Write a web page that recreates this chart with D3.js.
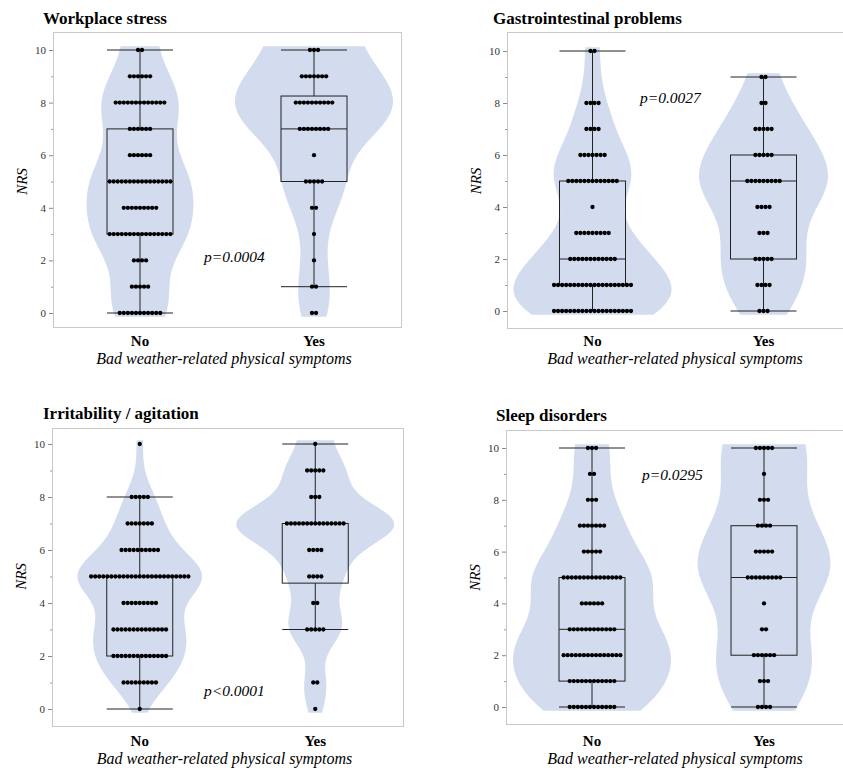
<!DOCTYPE html>
<html>
<head>
<meta charset="utf-8">
<script src="https://cdn.jsdelivr.net/npm/d3@7"></script>
<style>
  html, body { margin: 0; padding: 0; background: #fff; }
  #container { width: 843px; height: 770px; }
  svg { display: block; }
</style>
</head>
<body>
<div id="container"></div>
<script>
// ---- data ----
// NRS score 0..10, number of respondents at each score
const nrsScores = d3.range(0, 11);
const groups = ["No", "Yes"];
const panelTitles = ["Workplace stress", "Gastrointestinal problems", "Irritability / agitation", "Sleep disorders"];
const pTexts = ["p=0.0004", "p=0.0027", "p<0.0001", "p=0.0295"];
const xAxisTitle = "Bad weather-related physical symptoms";
const yAxisTitle = "NRS";
const yTicks = [0, 2, 4, 6, 8, 10];
const yMinorTicks = [1, 3, 5, 7, 9];

const workNo = [11, 5, 4, 16, 9, 16, 6, 6, 13, 6, 2];
const workYes = [2, 2, 1, 1, 2, 5, 1, 8, 10, 7, 3];
const gastroNo = [20, 20, 12, 9, 1, 13, 7, 4, 4, 0, 2];
const gastroYes = [3, 4, 5, 3, 4, 9, 5, 5, 2, 2, 0];
const irritNo = [1, 9, 14, 14, 9, 25, 10, 7, 5, 0, 1];
const irritYes = [1, 2, 0, 5, 2, 4, 4, 15, 3, 5, 1];
const sleepNo = [12, 12, 15, 12, 6, 15, 5, 7, 3, 2, 3];
const sleepYes = [4, 3, 6, 2, 1, 9, 5, 4, 3, 1, 5];

// ---- layout ----
const width = 843, height = 770;
const violinFill = "#d3dbee";
const serif = "'Liberation Serif', 'Times New Roman', serif";

const panels = [
  { title: panelTitles[0], p: pTexts[0], counts: [workNo, workYes],
    left: 53, right: 401, top: 32, bottom: 327, y0: 313, y10: 50,
    titleX: 43, titleY: 24, pX: 204, pY: 262, catY: 346, axisY: 364 },
  { title: panelTitles[1], p: pTexts[1], counts: [gastroNo, gastroYes],
    left: 507, right: 849, top: 32, bottom: 328, y0: 311, y10: 51,
    titleX: 493, titleY: 24, pX: 640, pY: 103, catY: 346, axisY: 364 },
  { title: panelTitles[2], p: pTexts[2], counts: [irritNo, irritYes],
    left: 52, right: 403, top: 428, bottom: 726, y0: 709, y10: 444,
    titleX: 43, titleY: 419, pX: 204, pY: 696, catY: 746, axisY: 764 },
  { title: panelTitles[3], p: pTexts[3], counts: [sleepNo, sleepYes],
    left: 506, right: 850, top: 430, bottom: 724, y0: 707, y10: 448,
    titleX: 496, titleY: 421, pX: 642, pY: 480, catY: 746, axisY: 764 }
];

// expand counts to a sorted list of values
function expand(counts) {
  const out = [];
  counts.forEach((c, v) => { for (let i = 0; i < c; i++) out.push(nrsScores[v]); });
  return out;
}

// JMP style quantile: position (n+1)p
function quantile(sorted, p) {
  const n = sorted.length;
  const pos = (n + 1) * p;
  if (pos <= 1) return sorted[0];
  if (pos >= n) return sorted[n - 1];
  const k = Math.floor(pos), f = pos - k;
  return sorted[k - 1] + f * (sorted[k] - sorted[k - 1]);
}

function boxStats(values) {
  const q1 = quantile(values, 0.25), med = quantile(values, 0.5), q3 = quantile(values, 0.75);
  const iqr = q3 - q1;
  const lo = d3.min(values.filter(v => v >= q1 - 1.5 * iqr));
  const hi = d3.max(values.filter(v => v <= q3 + 1.5 * iqr));
  return { q1, med, q3, lo, hi };
}

// gaussian kde, Silverman bandwidth, half-weight reflection at the top of the NRS scale
function kde(values, grid) {
  const n = values.length;
  const sd = d3.deviation(values);
  const iqr = quantile(values, 0.75) - quantile(values, 0.25);
  const h = 0.9 * Math.min(sd, iqr / 1.34 || sd) * Math.pow(n, -0.2);
  const k = u => Math.exp(-0.5 * u * u);
  return grid.map(t => [t, d3.sum(values, v => k((t - v) / h) + 0.5 * k((t - (20 - v)) / h)) / (n * h)]);
}

const svg = d3.select("#container").append("svg")
  .attr("width", width).attr("height", height)
  .attr("viewBox", [0, 0, width, height]);

function drawPanel(cfg) {
  const g = svg.append("g");
  const x = d3.scaleBand().domain(groups).range([cfg.left, cfg.right]);
  const y = d3.scaleLinear().domain([0, 10]).range([cfg.y0, cfg.y10]);
  const cx = k => x(k) + x.bandwidth() / 2;

  // frame
  g.append("rect")
    .attr("x", cfg.left + 0.5).attr("y", cfg.top + 0.5)
    .attr("width", cfg.right - cfg.left).attr("height", cfg.bottom - cfg.top)
    .attr("fill", "none").attr("stroke", "#c9c9c9");

  // y axis
  g.append("g")
    .attr("transform", `translate(${cfg.left},0)`)
    .call(d3.axisLeft(y).tickValues(yTicks).tickSize(4).tickPadding(3))
    .call(a => a.select(".domain").remove())
    .call(a => a.selectAll("line").attr("stroke", "#888"))
    .call(a => a.selectAll("text").attr("font-family", serif).attr("font-size", 11).attr("fill", "#333"));
  g.append("g")
    .attr("transform", `translate(${cfg.left},0)`)
    .call(d3.axisLeft(y).tickValues(yMinorTicks).tickSize(2).tickFormat(""))
    .call(a => a.select(".domain").remove())
    .call(a => a.selectAll("line").attr("stroke", "#999"));

  const sets = cfg.counts.map(expand);
  const dens = sets.map(vals => {
    const lo = d3.min(vals) - 0.14, hi = d3.max(vals) + 0.14;
    const grid = d3.range(lo, hi, 0.05).concat([hi]);
    return kde(vals, grid);
  });
  const maxD = d3.max(dens.flat(), d => d[1]);
  const w = d3.scaleLinear().domain([0, maxD]).range([0, 79]);

  groups.forEach((grp, i) => {
    const c = cx(grp);
    // violin
    g.append("path")
      .datum(dens[i])
      .attr("fill", violinFill)
      .attr("d", d3.area()
        .curve(d3.curveBasis)
        .y(d => y(d[0]))
        .x0(d => c - w(d[1]))
        .x1(d => c + w(d[1])));

    // box
    const s = boxStats(sets[i]);
    const bw = 33;
    const box = g.append("g").attr("stroke", "#222").attr("stroke-width", 1).attr("fill", "none");
    box.append("line").attr("x1", c).attr("x2", c).attr("y1", y(s.lo)).attr("y2", y(s.q1));
    box.append("line").attr("x1", c).attr("x2", c).attr("y1", y(s.q3)).attr("y2", y(s.hi));
    box.append("rect").attr("x", c - bw).attr("width", 2 * bw)
      .attr("y", y(s.q3)).attr("height", y(s.q1) - y(s.q3));
    [s.lo, s.hi, s.med].forEach(v =>
      box.append("line").attr("x1", c - bw).attr("x2", c + bw).attr("y1", y(v)).attr("y2", y(v)));

    // dots
    const dots = [];
    cfg.counts[i].forEach((n, v) => {
      for (let j = 0; j < n; j++) dots.push({ v: nrsScores[v], off: j - (n - 1) / 2 });
    });
    g.append("g").attr("fill", "#000")
      .selectAll("circle").data(dots).join("circle")
      .attr("cx", d => c + d.off * 4.05)
      .attr("cy", d => y(d.v))
      .attr("r", 2.15);

    // category label
    g.append("text")
      .attr("x", c).attr("y", cfg.catY)
      .attr("text-anchor", "middle")
      .attr("font-family", serif).attr("font-weight", "bold").attr("font-size", 15)
      .text(grp);
  });

  // axis titles
  g.append("text")
    .attr("x", (cx("No") + cx("Yes")) / 2 - 3).attr("y", cfg.axisY)
    .attr("text-anchor", "middle")
    .attr("font-family", serif).attr("font-style", "italic").attr("font-size", 16)
    .text(xAxisTitle);
  g.append("text")
    .attr("transform", `translate(${cfg.left - 26},${(cfg.y0 + cfg.y10) / 2}) rotate(-90)`)
    .attr("text-anchor", "middle")
    .attr("font-family", serif).attr("font-style", "italic").attr("font-size", 15)
    .text(yAxisTitle);

  // title and p value
  g.append("text")
    .attr("x", cfg.titleX).attr("y", cfg.titleY)
    .attr("font-family", serif).attr("font-weight", "bold").attr("font-size", 17)
    .text(cfg.title);
  g.append("text")
    .attr("x", cfg.pX).attr("y", cfg.pY)
    .attr("font-family", serif).attr("font-style", "italic").attr("font-size", 15.5)
    .text(cfg.p);
}

panels.forEach(drawPanel);
</script>
</body>
</html>
